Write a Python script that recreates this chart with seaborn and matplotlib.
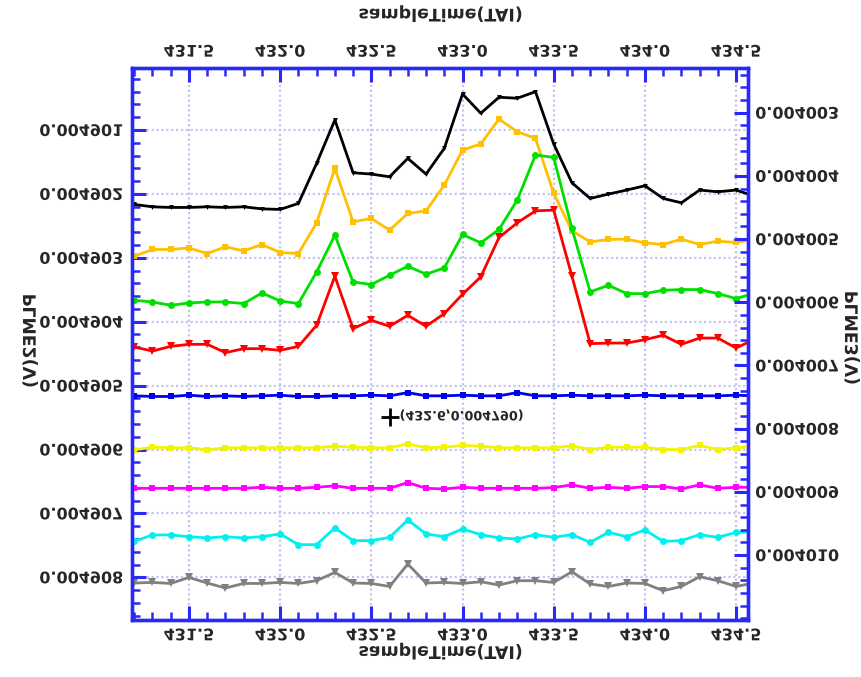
import numpy as np
import pandas as pd
import matplotlib
matplotlib.use("Agg")
import matplotlib.pyplot as plt
import seaborn as sns
from matplotlib.patheffects import AbstractPathEffect
from matplotlib.transforms import Affine2D
from matplotlib.ticker import FixedLocator, MultipleLocator

# ---------------- data ----------------
sample_time = [431.2, 431.3, 431.4, 431.5, 431.6, 431.7, 431.8, 431.9, 432.0,
               432.1, 432.2, 432.3, 432.4, 432.5, 432.6, 432.7, 432.8, 432.9,
               433.0, 433.1, 433.2, 433.3, 433.4, 433.5, 433.6, 433.7, 433.8,
               433.9, 434.0, 434.1, 434.2, 434.3, 434.4, 434.5, 434.6]

BASE = 0.0049          # values below are in micro-units above BASE
SCALE = 1e-6

black = [2.165, 2.202, 2.212, 2.212, 2.202, 2.212, 2.202, 2.234, 2.243, 2.149,
         1.522, 0.843, 1.669, 1.690, 1.732, 1.444, 1.690, 1.287, 0.436, 0.738,
         0.487, 0.503, 0.400, 1.219, 1.826, 2.071, 2.003, 1.940, 1.873, 2.071,
         2.139, 1.940, 1.967, 1.940, 2.034]
orange = [2.975, 2.870, 2.870, 2.845, 2.933, 2.829, 2.892, 2.792, 2.917, 2.933,
          2.453, 1.600, 2.437, 2.384, 2.567, 2.306, 2.265, 1.862, 1.313, 1.219,
          0.828, 1.027, 1.130, 1.992, 2.578, 2.751, 2.713, 2.708, 2.766, 2.792,
          2.708, 2.792, 2.740, 2.760, 2.716]
green = [3.665, 3.691, 3.743, 3.707, 3.691, 3.691, 3.716, 3.550, 3.676, 3.716,
         3.221, 2.646, 3.378, 3.418, 3.273, 3.132, 3.257, 3.158, 2.635, 2.766,
         2.556, 2.097, 1.392, 1.428, 2.541, 3.534, 3.429, 3.560, 3.560, 3.508,
         3.497, 3.497, 3.560, 3.638, 3.555]
red = [4.397, 4.459, 4.386, 4.354, 4.354, 4.484, 4.422, 4.422, 4.448, 4.386,
       4.056, 3.288, 4.108, 3.978, 4.072, 3.900, 4.072, 3.873, 3.571, 3.299,
       2.682, 2.453, 2.265, 2.254, 3.288, 4.343, 4.334, 4.334, 4.281, 4.213,
       4.354, 4.256, 4.256, 4.412, 4.276]
blue = [5.16, 5.17, 5.17, 5.15, 5.17, 5.16, 5.17, 5.16, 5.15, 5.17,
        5.17, 5.16, 5.16, 5.15, 5.16, 5.11, 5.16, 5.16, 5.15, 5.16,
        5.16, 5.11, 5.16, 5.16, 5.15, 5.16, 5.16, 5.16, 5.15, 5.16,
        5.16, 5.16, 5.16, 5.15, 5.16]
yellow = [6.005, 5.964, 5.973, 5.973, 6.005, 5.973, 5.973, 5.973, 5.973, 5.973,
          5.973, 5.948, 5.964, 5.973, 5.973, 5.911, 5.973, 5.964, 5.937, 5.948,
          5.973, 5.973, 5.973, 5.973, 5.942, 6.000, 5.964, 5.964, 5.964, 6.000,
          6.000, 5.937, 6.000, 5.973, 5.953]
magenta = [6.607, 6.607, 6.607, 6.607, 6.607, 6.607, 6.607, 6.591, 6.607, 6.607,
           6.591, 6.569, 6.607, 6.607, 6.607, 6.517, 6.607, 6.617, 6.591, 6.607,
           6.607, 6.607, 6.607, 6.596, 6.553, 6.607, 6.591, 6.607, 6.580, 6.580,
           6.617, 6.553, 6.607, 6.591, 6.591]
cyan = [7.437, 7.337, 7.337, 7.364, 7.384, 7.364, 7.384, 7.364, 7.321, 7.489,
        7.489, 7.227, 7.426, 7.426, 7.375, 7.102, 7.321, 7.364, 7.243, 7.332,
        7.384, 7.400, 7.332, 7.375, 7.332, 7.453, 7.296, 7.364, 7.259, 7.437,
        7.426, 7.332, 7.375, 7.296, 7.296]
gray = [8.089, 8.080, 8.096, 8.002, 8.089, 8.168, 8.096, 8.096, 8.080, 8.096,
        8.053, 7.923, 8.089, 8.096, 8.143, 7.792, 8.089, 8.080, 8.096, 8.069,
        8.121, 8.053, 8.053, 8.080, 7.912, 8.105, 8.143, 8.089, 8.096, 8.210,
        8.143, 7.991, 8.053, 8.143, 8.089]

x_ticks = [431.5, 432.0, 432.5, 433.0, 433.5, 434.0, 434.5]
x_ticklabels = ["431.5", "432.0", "432.5", "433.0", "433.5", "434.0", "434.5"]
left_ticklabels = ["0.004901", "0.004902", "0.004903", "0.004904",
                   "0.004905", "0.004906", "0.004907", "0.004908"]
right_ticklabels = ["0.004003", "0.004004", "0.004005", "0.004006",
                    "0.004007", "0.004008", "0.004009", "0.004010"]
x_label = "sampleTime(TAI)"
left_label = "PLME2(V)"
right_label = "PLME3(V)"
cursor_text = "(432.6,0.004790)"
cursor_x = 432.6
cursor_y = BASE + 5.49 * SCALE

series_names = ["black", "orange", "green", "red", "blue",
                "yellow", "magenta", "cyan", "gray"]
series_values = [black, orange, green, red, blue, yellow, magenta, cyan, gray]

# ---------------- style ----------------
colors = {"black": "#000000", "orange": "#FFC000", "green": "#00E000",
          "red": "#FF0000", "blue": "#0000F0", "yellow": "#F4F400",
          "magenta": "#FF00FF", "cyan": "#00F0F0", "gray": "#808080"}
markers = {"black": "v", "orange": "s", "green": "o", "red": "v",
           "blue": "s", "yellow": "s", "magenta": "s", "cyan": "o", "gray": "v"}
msizes = {"black": 3.5, "orange": 5, "green": 5, "red": 5.5, "blue": 4,
          "yellow": 4.5, "magenta": 5, "cyan": 5, "gray": 5.5}

sns.set_style("white")
plt.rcParams["font.family"] = ["DejaVu Sans"]
plt.rcParams["font.weight"] = "bold"

SPINE = "#2828F8"
GRID = "#C4C4F2"


class VFlip(AbstractPathEffect):
    """Draw text mirrored top-to-bottom about the middle of its cap height."""

    def __init__(self, center=36.5):
        super().__init__()
        self._c = center

    def draw_path(self, renderer, gc, tpath, affine, rgbFace=None):
        flip = Affine2D().scale(1, -1).translate(0, 2 * self._c)
        renderer.draw_path(gc, tpath, flip + affine, rgbFace)


FLIP = [VFlip()]

W, H = 861, 677
fig = plt.figure(figsize=(W / 100, H / 100), dpi=100)
L, R, T, B = 131.7, 748.3, 68.0, 620.0
ax = fig.add_axes([L / W, 1 - B / H, (R - L) / W, (B - T) / H])

df = pd.DataFrame({
    "time": np.tile(sample_time, len(series_names)),
    "value": np.concatenate([BASE + np.array(v) * SCALE for v in series_values]),
    "series": np.repeat(series_names, len(sample_time)),
})

for name in series_names:
    sub = df[df["series"] == name]
    sns.lineplot(data=sub, x="time", y="value", ax=ax, color=colors[name],
                 marker=markers[name], markersize=msizes[name],
                 markeredgewidth=0, linewidth=2.0, legend=False,
                 estimator=None, sort=False, zorder=3)

ax.set_xlim(431.186, 434.567)
ax.set_ylim(BASE + 8.668 * SCALE, BASE + 0.0297 * SCALE)
left_vals = [BASE + k * SCALE for k in range(1, 9)]
ax.set_xticks(x_ticks, x_ticklabels)
ax.xaxis.set_minor_locator(MultipleLocator(0.1))
ax.set_yticks(left_vals, left_ticklabels)
ax.yaxis.set_minor_locator(FixedLocator(BASE + np.arange(0, 8.8, 0.2) * SCALE))
ax.set_xlabel("")
ax.set_ylabel("")

ax.grid(True, which="major", color=GRID, linestyle=(0, (1, 1.2)), linewidth=1.6)
ax.set_axisbelow(True)

ax.tick_params(axis="x", which="both", direction="in", top=True, bottom=True,
               labeltop=True, labelbottom=True, color=SPINE, pad=6,
               labelsize=11.5)
ax.tick_params(axis="y", which="both", direction="in", left=True, right=False,
               color=SPINE, pad=6, labelsize=11.5)
ax.tick_params(which="major", length=10, width=2.2)
ax.tick_params(which="minor", length=6, width=1.8)

for sp in ax.spines.values():
    sp.set_color(SPINE)
    sp.set_linewidth(2.4)

ax2 = ax.twinx()
ax2.set_ylim(0.004 + 11.027 * SCALE, 0.004 + 2.293 * SCALE)
right_vals = [0.004 + k * SCALE for k in range(3, 11)]
ax2.set_yticks(right_vals, right_ticklabels)
ax2.yaxis.set_minor_locator(FixedLocator(0.004 + np.arange(2.4, 11.1, 0.2) * SCALE))
ax2.tick_params(axis="y", which="both", direction="in", right=True, left=False,
                color=SPINE, pad=5, labelsize=11.5)
ax2.tick_params(which="major", length=10, width=2.2)
ax2.tick_params(which="minor", length=6, width=1.8)
for sp in ax2.spines.values():
    sp.set_color(SPINE)
    sp.set_linewidth(2.4)

# cursor readout
ax.scatter([cursor_x], [cursor_y], marker="+", s=170, color="black",
           linewidths=2.0, zorder=5)
ax.text(cursor_x + 0.055, cursor_y, cursor_text, fontsize=9.2,
        fontweight="bold", ha="left", va="center", zorder=5,
        path_effects=FLIP)

# axis titles (image is mirrored vertically)
fig.text(441 / W, 1 - 16.5 / H, x_label, ha="center", va="center",
         fontsize=12.5, fontweight="bold", path_effects=FLIP)
fig.text(441 / W, 1 - 654 / H, x_label, ha="center", va="center",
         fontsize=12.5, fontweight="bold", path_effects=FLIP)
fig.text(28 / W, 1 - 341 / H, left_label, ha="center", va="center",
         rotation=270, fontsize=12.5, fontweight="bold", path_effects=FLIP)
fig.text(850 / W, 1 - 338 / H, right_label, ha="center", va="center",
         rotation=270, fontsize=12.5, fontweight="bold", path_effects=FLIP)

for tk in ax.xaxis.get_major_ticks():
    tk.label1.set_path_effects(FLIP)
    tk.label2.set_path_effects(FLIP)
for tk in ax.yaxis.get_major_ticks():
    tk.label1.set_path_effects(FLIP)
for tk in ax2.yaxis.get_major_ticks():
    tk.label2.set_path_effects(FLIP)

fig.savefig("out.png", dpi=100)
